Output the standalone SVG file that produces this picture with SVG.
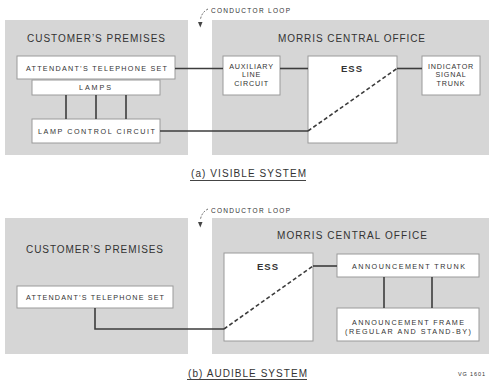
<svg xmlns="http://www.w3.org/2000/svg" width="491" height="380" viewBox="0 0 491 380">
<style>
text{font-family:"Liberation Sans",Arial,sans-serif;fill:#333333;}
.panel{fill:#d6d6d6;stroke:none;}
.box{fill:#ffffff;stroke:#9a9a9a;stroke-width:1;}
.h{font-size:10px;}
.t{font-size:7.2px;}
.s{font-size:6.5px;}
.ess{font-size:9.5px;font-weight:bold;}
.w{fill:none;stroke:#3c3c3c;stroke-width:1.6;}
.d{fill:none;stroke:#3c3c3c;stroke-width:1.6;stroke-dasharray:4 2.5;}
.loop{fill:none;stroke:#555;stroke-width:0.9;stroke-dasharray:2 1.5;}
.ul{stroke:#444;stroke-width:1;}
</style>
<rect width="491" height="380" fill="#ffffff"/>

<!-- (a) Visible system -->
<g id="panel-a-customer">
<rect class="panel" x="5" y="20" width="183" height="135"/>
<text class="h" x="27" y="42" textLength="138" lengthAdjust="spacing">CUSTOMER’S PREMISES</text>
</g>
<g id="panel-a-office">
<rect class="panel" x="212" y="20" width="277" height="135"/>
<text class="h" x="278" y="42" textLength="147" lengthAdjust="spacing">MORRIS CENTRAL OFFICE</text>
</g>
<g id="loop-a">
<text class="s" x="211" y="13" textLength="79" lengthAdjust="spacing">CONDUCTOR LOOP</text>
<path class="loop" d="M208,9 Q202,12 200.5,19"/>
<polygon points="198,22 202.5,22 200.3,27.5" fill="#444"/>
</g>

<g id="a-telephone">
<rect class="box" x="17" y="56" width="158" height="23"/>
<text class="t" x="26" y="71" textLength="141" lengthAdjust="spacing">ATTENDANT’S TELEPHONE SET</text>
</g>
<g id="a-lamps">
<rect class="box" x="32" y="80" width="128" height="15"/>
<text class="t" x="79" y="90" textLength="32" lengthAdjust="spacing">LAMPS</text>
</g>
<g id="a-lampcontrol">
<rect class="box" x="32" y="119" width="128" height="24"/>
<text class="t" x="38" y="134" textLength="117" lengthAdjust="spacing">LAMP CONTROL CIRCUIT</text>
</g>
<g id="a-auxiliary">
<rect class="box" x="223" y="56" width="57" height="39"/>
<text class="t" x="251.5" y="69" text-anchor="middle" letter-spacing="0.8">AUXILIARY</text>
<text class="t" x="251.5" y="77" text-anchor="middle" letter-spacing="0.8">LINE</text>
<text class="t" x="251.5" y="86" text-anchor="middle" letter-spacing="0.8">CIRCUIT</text>
</g>
<g id="a-ess">
<rect class="box" x="308" y="56" width="89" height="87"/>
<text class="ess" x="341" y="72" textLength="21" lengthAdjust="spacing">ESS</text>
</g>
<g id="a-indicator">
<rect class="box" x="422" y="56" width="58" height="39"/>
<text class="t" x="451" y="69" text-anchor="middle" letter-spacing="0.8">INDICATOR</text>
<text class="t" x="451" y="77" text-anchor="middle" letter-spacing="0.8">SIGNAL</text>
<text class="t" x="451" y="86" text-anchor="middle" letter-spacing="0.8">TRUNK</text>
</g>

<g id="connectors-a">
<line class="w" x1="175" y1="68.5" x2="223" y2="68.5"/>
<line class="w" x1="280" y1="68.5" x2="308" y2="68.5"/>
<line class="w" x1="397" y1="68.5" x2="422" y2="68.5"/>
<line class="w" x1="66" y1="95" x2="66" y2="119"/>
<line class="w" x1="96" y1="95" x2="96" y2="119"/>
<line class="w" x1="126" y1="95" x2="126" y2="119"/>
<line class="w" x1="160" y1="131" x2="308" y2="131"/>
<line class="d" x1="308" y1="131" x2="397" y2="68.5"/>
</g>

<g id="caption-a">
<text class="h" x="191" y="177" textLength="115" lengthAdjust="spacing">(a) VISIBLE SYSTEM</text>
<line class="ul" x1="190" y1="180.5" x2="306" y2="180.5"/>
</g>

<!-- (b) Audible system -->
<g id="panel-b-customer">
<rect class="panel" x="5" y="218" width="183" height="136"/>
<text class="h" x="26" y="253" textLength="137" lengthAdjust="spacing">CUSTOMER’S PREMISES</text>
</g>
<g id="panel-b-office">
<rect class="panel" x="212" y="218" width="277" height="136"/>
<text class="h" x="277" y="239" textLength="150" lengthAdjust="spacing">MORRIS CENTRAL OFFICE</text>
</g>
<g id="loop-b">
<text class="s" x="211" y="213" textLength="79" lengthAdjust="spacing">CONDUCTOR LOOP</text>
<path class="loop" d="M208,209 Q202,212 200.5,219"/>
<polygon points="198,222 202.5,222 200.3,227.5" fill="#444"/>
</g>

<g id="b-telephone">
<rect class="box" x="17" y="286" width="156" height="22"/>
<text class="t" x="26" y="300" textLength="138" lengthAdjust="spacing">ATTENDANT’S TELEPHONE SET</text>
</g>
<g id="b-ess">
<rect class="box" x="224" y="253" width="89" height="88"/>
<text class="ess" x="257" y="270" textLength="21" lengthAdjust="spacing">ESS</text>
</g>
<g id="b-announcement-trunk">
<rect class="box" x="337" y="254" width="142" height="23"/>
<text class="t" x="352" y="269" textLength="113" lengthAdjust="spacing">ANNOUNCEMENT TRUNK</text>
</g>
<g id="b-announcement-frame">
<rect class="box" x="337" y="308" width="142" height="33"/>
<text class="t" x="352" y="325" textLength="112" lengthAdjust="spacing">ANNOUNCEMENT FRAME</text>
<text class="t" x="345" y="333.5" textLength="126" lengthAdjust="spacing">(REGULAR AND STAND-BY)</text>
</g>

<g id="connectors-b">
<polyline class="w" points="95,308 95,329 224,329"/>
<line class="d" x1="224" y1="329" x2="313" y2="266"/>
<line class="w" x1="313" y1="266" x2="337" y2="266"/>
<line class="w" x1="384" y1="277" x2="384" y2="308"/>
<line class="w" x1="432" y1="277" x2="432" y2="308"/>
</g>

<g id="caption-b">
<text class="h" x="188" y="377" textLength="119" lengthAdjust="spacing">(b) AUDIBLE SYSTEM</text>
<line class="ul" x1="187" y1="379.5" x2="307" y2="379.5"/>
<text x="458" y="376" font-size="5.5" textLength="27" lengthAdjust="spacing">VG 1601</text>
</g>
</svg>
